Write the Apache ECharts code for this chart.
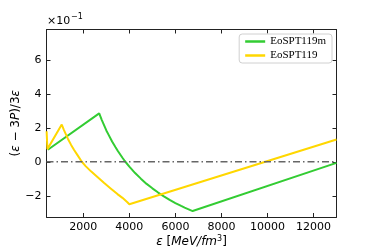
<!DOCTYPE html>
<html>
<head>
<meta charset="utf-8">
<script src="https://cdn.jsdelivr.net/npm/echarts@6/dist/echarts.min.js"></script>
<style>
html,body{margin:0;padding:0;background:#fff;}
#c{width:374px;height:249px;}
</style>
</head>
<body>
<div id="c"></div>
<script>
const seriesNames = ['EoSPT119m', 'EoSPT119'];
// EoSPT119m: [epsilon, (eps-3P)/3eps]
const greenData = [
  [458, 0.071], [2690, 0.286], [2800, 0.248], [3000, 0.185], [3100, 0.159],
  [3250, 0.120], [3400, 0.086], [3500, 0.064], [3700, 0.024], [3800, 0.005],
  [4000, -0.028], [4250, -0.066], [4500, -0.099], [4750, -0.130], [5000, -0.156],
  [5250, -0.181], [5500, -0.203], [5750, -0.224], [6000, -0.243], [6250, -0.260],
  [6400, -0.270], [6750, -0.290], [13000, -0.006]
];
// EoSPT119
const yellowData = [
  [405, 0.180], [440, 0.075], [1063, 0.220], [1150, 0.190], [1253, 0.159],
  [1350, 0.130], [1469, 0.100], [1600, 0.070], [1754, 0.038], [1927, 0.002],
  [2100, -0.025], [2333, -0.056], [2600, -0.088], [2907, -0.125], [3200, -0.158],
  [3482, -0.190], [3700, -0.212], [3914, -0.238], [4000, -0.250], [13000, 0.132]
];
const refLine = [[400, 0], [13000, 0]];
const xTicks = [2000, 4000, 6000, 8000, 10000, 12000];
const yTicks = [-0.2, 0, 0.2, 0.4, 0.6];
const xRange = [400, 13000];
const yRange = [-0.325, 0.78];

const chart = echarts.init(document.getElementById('c'), null, {renderer: 'canvas'});
const axisLineStyle = {show: true, onZero: false, lineStyle: {color: '#222', width: 1}};
chart.setOption({
  animation: false,
  backgroundColor: '#fff',
  grid: {left: 46.5, right: 37.5, top: 29.5, bottom: 32, containLabel: false, outerBoundsMode: 'none'},
  xAxis: [
    {
      type: 'value', min: xRange[0], max: xRange[1], position: 'bottom',
      axisLine: axisLineStyle, splitLine: {show: false},
      axisTick: {show: true, inside: true, length: 4, customValues: xTicks, lineStyle: {color: '#222'}},
      axisLabel: {show: true, customValues: xTicks, fontFamily: 'DejaVu Sans', fontSize: 11, color: '#000', margin: 5,
        formatter: v => String(Math.round(v))},
      name: '{i|ε} [{i|MeV/fm}{s|3}]', nameLocation: 'middle', nameGap: 18, nameMoveOverlap: false,
      nameTextStyle: {fontFamily: 'DejaVu Sans', fontSize: 12, color: '#000',
        rich: {i: {fontStyle: 'italic', fontFamily: 'DejaVu Sans', fontSize: 12}, s: {fontSize: 8, verticalAlign: 'top', padding: [0,0,6,0], fontFamily: 'DejaVu Sans'}}}
    },
    {
      type: 'value', min: xRange[0], max: xRange[1], position: 'top',
      axisLine: axisLineStyle, splitLine: {show: false},
      axisTick: {show: true, inside: true, length: 4, customValues: xTicks, lineStyle: {color: '#222'}},
      axisLabel: {show: false}
    }
  ],
  yAxis: [
    {
      type: 'value', min: yRange[0], max: yRange[1], position: 'left',
      axisLine: axisLineStyle, splitLine: {show: false},
      axisTick: {show: true, inside: true, length: 4, customValues: yTicks, lineStyle: {color: '#222'}},
      axisLabel: {show: true, customValues: yTicks, fontFamily: 'DejaVu Sans', fontSize: 11, color: '#000', margin: 5,
        formatter: v => { const r = Math.round(v * 10); return r < 0 ? '\u2212' + (-r) : String(r); }},
      name: '({i|ε} \u2212 3{i|P})/3{i|ε}', nameLocation: 'middle', nameGap: 25, nameRotate: 90, nameMoveOverlap: false,
      nameTextStyle: {fontFamily: 'DejaVu Sans', fontSize: 12, color: '#000',
        rich: {i: {fontStyle: 'italic', fontFamily: 'DejaVu Sans', fontSize: 12}}}
    },
    {
      type: 'value', min: yRange[0], max: yRange[1], position: 'right',
      axisLine: axisLineStyle, splitLine: {show: false},
      axisTick: {show: true, inside: true, length: 4, customValues: yTicks, lineStyle: {color: '#222'}},
      axisLabel: {show: false}
    }
  ],
  legend: {
    data: seriesNames, orient: 'vertical', right: 42, top: 34,
    icon: 'rect', itemWidth: 20, itemHeight: 2.5, itemGap: 3,
    padding: [2, 6, 2, 6],
    backgroundColor: '#fff', borderColor: '#d0d0d0', borderWidth: 1, borderRadius: 3,
    textStyle: {fontFamily: 'Liberation Serif', fontSize: 11, color: '#000'}
  },
  graphic: [
    {type: 'text', left: 47, top: 16, style: {text: '×10', font: '11px "DejaVu Sans"', fill: '#000'}},
    {type: 'text', left: 71, top: 13, style: {text: '\u22121', font: '8px "DejaVu Sans"', fill: '#000'}}
  ],
  series: [
    {name: seriesNames[0], type: 'line', data: greenData, symbol: 'none', smooth: false,
     lineStyle: {color: '#33cc33', width: 2}, itemStyle: {color: '#33cc33'}, z: 2},
    {name: seriesNames[1], type: 'line', data: yellowData, symbol: 'none', smooth: false,
     lineStyle: {color: '#ffd700', width: 2}, itemStyle: {color: '#ffd700'}, z: 3},
    {name: 'ref', type: 'line', data: refLine, symbol: 'none', silent: true,
     lineStyle: {color: '#666', width: 1.5, type: [7, 3, 1.5, 3]}, z: 4}
  ]
});
</script>
</body>
</html>
